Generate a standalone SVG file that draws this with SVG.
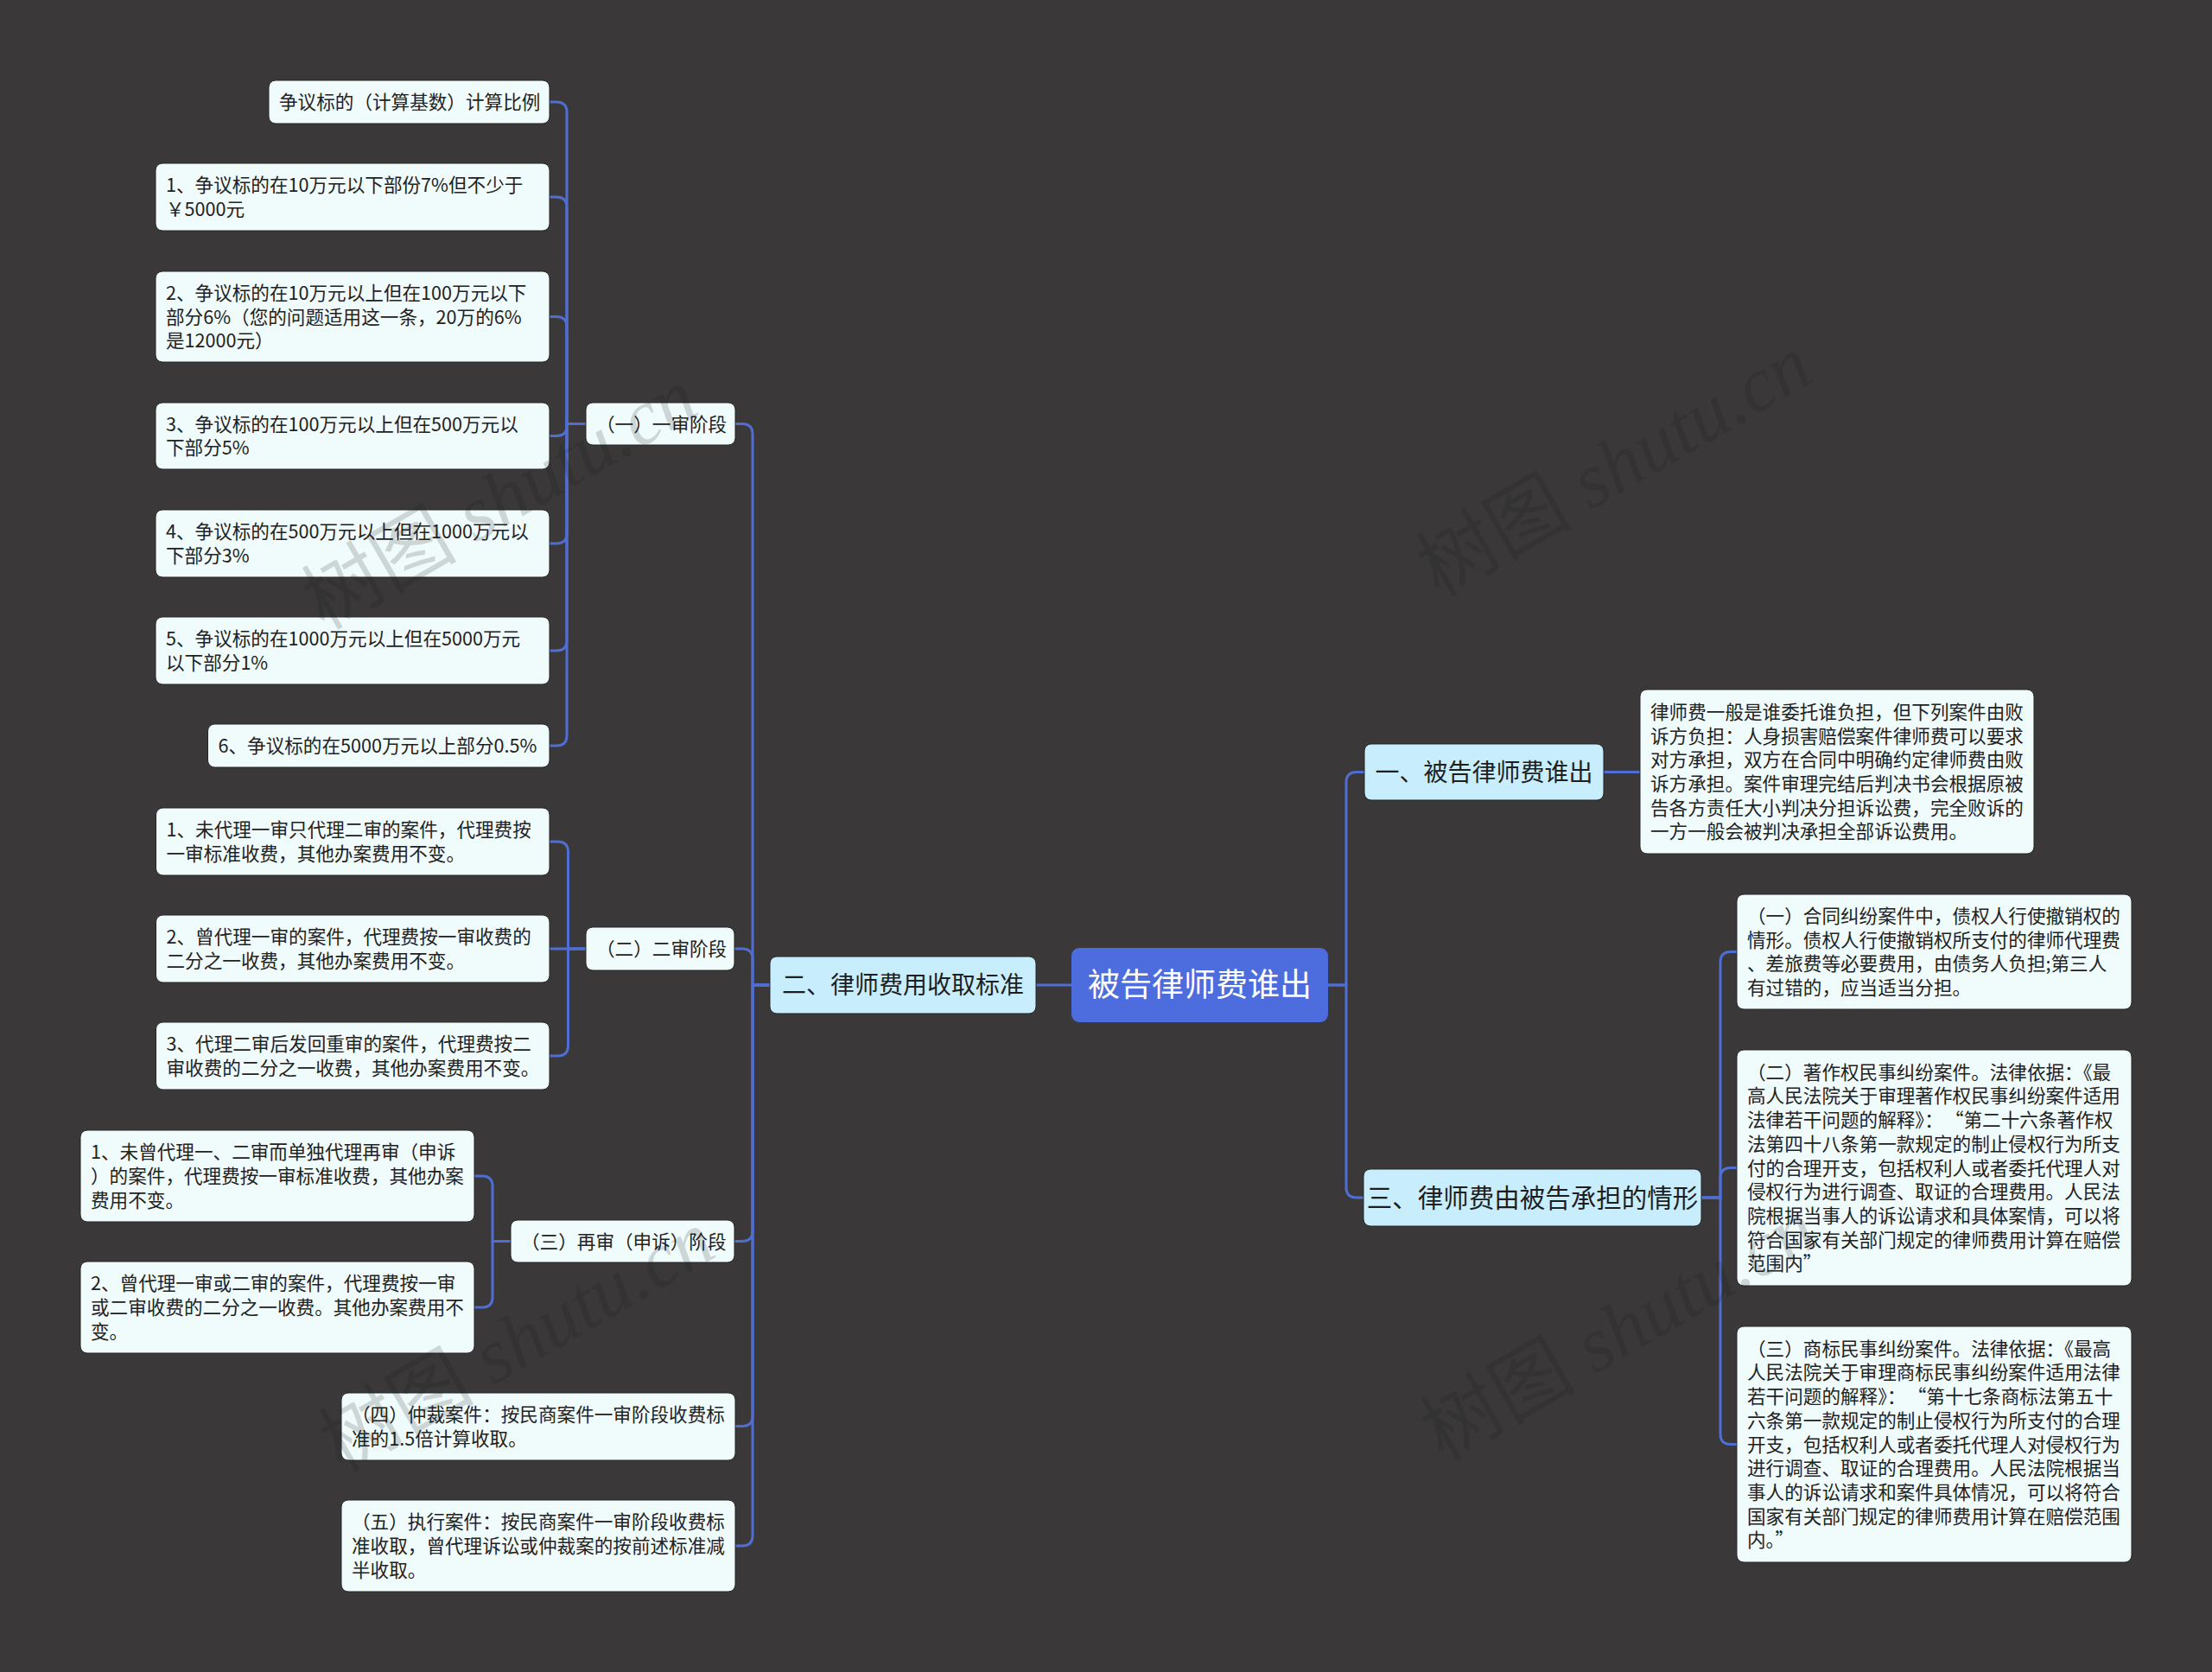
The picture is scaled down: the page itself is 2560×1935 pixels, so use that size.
<svg xmlns="http://www.w3.org/2000/svg" width="2560" height="1935" viewBox="0 0 2560 1935">
<defs>
<style>
.bg{fill:#3a3839}
.leaf{fill:#f0fbfc;stroke:#262626;stroke-width:1}
.l1{fill:#c8edfc;stroke:#262626;stroke-width:1}
.root{fill:#4d6cde}
.conn path{fill:none;stroke:#506ed2;stroke-width:3;stroke-linecap:round}
.t{font-family:"Noto Sans CJK SC","Liberation Sans",sans-serif;font-size:21.6px;fill:#222}
.t1{font-family:"Noto Sans CJK SC","Liberation Sans",sans-serif;font-size:28px;fill:#1e1e1e;text-anchor:middle}
.tr{font-family:"Noto Sans CJK SC","Liberation Sans",sans-serif;font-size:37px;fill:#ffffff;text-anchor:middle}
.wm{font-size:90px;fill:#1a1a1a;opacity:0.16}
.wmc{font-family:"Noto Sans CJK SC",sans-serif}
.wml{font-family:"Liberation Serif",serif;font-style:italic}
</style>
</defs>
<rect class="bg" x="0" y="0" width="2560" height="1935"/>

<g id="connectors" class="conn">
<path d="M1240,1140 H1199"/>
<path d="M1537,1140 H1558 V905.5 Q1558,893.5 1570,893.5 H1579"/>
<path d="M1537,1140 H1558 V1374 Q1558,1386 1570,1386 H1579"/>
<path d="M1856,893.5 H1898"/>
<path d="M1969,1386 H1991 V1113.5 Q1991,1101.5 2003,1101.5 H2010"/>
<path d="M1969,1386 H1991 V1363.5 Q1991,1351.5 2003,1351.5 H2010"/>
<path d="M1969,1386 H1991 V1659.5 Q1991,1671.5 2003,1671.5 H2010"/>
<path d="M891,1140 H871 V502.5 Q871,490.5 859,490.5 H851"/>
<path d="M891,1140 H871 V1110 Q871,1098 859,1098 H851"/>
<path d="M891,1140 H871 V1424.5 Q871,1436.5 859,1436.5 H851"/>
<path d="M891,1140 H871 V1638.5 Q871,1650.5 859,1650.5 H851"/>
<path d="M891,1140 H871 V1777 Q871,1789 859,1789 H851"/>
<path d="M678,490.5 H656 V130 Q656,118 644,118 H636"/>
<path d="M678,490.5 H656 V240 Q656,228 644,228 H636"/>
<path d="M678,490.5 H656 V378.5 Q656,366.5 644,366.5 H636"/>
<path d="M678,490.5 H656 V492.5 Q656,504.5 644,504.5 H636"/>
<path d="M678,490.5 H656 V617 Q656,629 644,629 H636"/>
<path d="M678,490.5 H656 V741 Q656,753 644,753 H636"/>
<path d="M678,490.5 H656 V851 Q656,863 644,863 H636"/>
<path d="M678,1098 H657.5 V986 Q657.5,974 645.5,974 H636"/>
<path d="M678,1098 H636"/>
<path d="M678,1098 H657.5 V1210 Q657.5,1222 645.5,1222 H636"/>
<path d="M591,1436.5 H570 V1373 Q570,1361 558,1361 H549"/>
<path d="M591,1436.5 H570 V1501 Q570,1513 558,1513 H549"/>
</g>

<g id="root">
<rect class="root" x="1240" y="1097" width="297" height="86" rx="9"/>
<text class="tr" x="1388.5" y="1153">被告律师费谁出</text>
</g>

<g id="n-yi">
<rect class="l1" x="1579" y="861" width="277" height="65" rx="8"/>
<text class="t1" x="1717.5" y="903.5">一、被告律师费谁出</text>
</g>
<g id="n-yi-desc">
<rect class="leaf" x="1898" y="798" width="456" height="190" rx="8"/>
<text class="t"><tspan x="1910" y="831.8">律师费一般是谁委托谁负担，但下列案件由败</tspan><tspan x="1910" y="859.5">诉方负担：人身损害赔偿案件律师费可以要求</tspan><tspan x="1910" y="887.2">对方承担，双方在合同中明确约定律师费由败</tspan><tspan x="1910" y="914.9">诉方承担。案件审理完结后判决书会根据原被</tspan><tspan x="1910" y="942.6">告各方责任大小判决分担诉讼费，完全败诉的</tspan><tspan x="1910" y="970.3">一方一般会被判决承担全部诉讼费用。</tspan></text>
</g>

<g id="n-san">
<rect class="l1" x="1578" y="1353" width="391" height="66" rx="8"/>
<text class="t1" x="1773.5" y="1396.5" style="font-size:29.5px">三、律师费由被告承担的情形</text>
</g>
<g id="n-san-1">
<rect class="leaf" x="2010" y="1035" width="457" height="133" rx="8"/>
<text class="t"><tspan x="2022" y="1068">（一）合同纠纷案件中，债权人行使撤销权的</tspan><tspan x="2022" y="1095.7">情形。债权人行使撤销权所支付的律师代理费</tspan><tspan x="2022" y="1123.4">、差旅费等必要费用，由债务人负担;第三人</tspan><tspan x="2022" y="1151.1">有过错的，应当适当分担。</tspan></text>
</g>
<g id="n-san-2">
<rect class="leaf" x="2010" y="1215" width="457" height="273" rx="8"/>
<text class="t"><tspan x="2022" y="1248.7">（二）著作权民事纠纷案件。法律依据：《最</tspan><tspan x="2022" y="1276.4">高人民法院关于审理著作权民事纠纷案件适用</tspan><tspan x="2022" y="1304.1">法律若干问题的解释》：<tspan dx="13">“第二十六条著作权</tspan></tspan><tspan x="2022" y="1331.8">法第四十八条第一款规定的制止侵权行为所支</tspan><tspan x="2022" y="1359.5">付的合理开支，包括权利人或者委托代理人对</tspan><tspan x="2022" y="1387.2">侵权行为进行调查、取证的合理费用。人民法</tspan><tspan x="2022" y="1414.9">院根据当事人的诉讼请求和具体案情，可以将</tspan><tspan x="2022" y="1442.6">符合国家有关部门规定的律师费用计算在赔偿</tspan><tspan x="2022" y="1470.3">范围内”</tspan></text>
</g>
<g id="n-san-3">
<rect class="leaf" x="2010" y="1535" width="457" height="273" rx="8"/>
<text class="t"><tspan x="2022" y="1568.7">（三）商标民事纠纷案件。法律依据：《最高</tspan><tspan x="2022" y="1596.4">人民法院关于审理商标民事纠纷案件适用法律</tspan><tspan x="2022" y="1624.1">若干问题的解释》：<tspan dx="13">“第十七条商标法第五十</tspan></tspan><tspan x="2022" y="1651.8">六条第一款规定的制止侵权行为所支付的合理</tspan><tspan x="2022" y="1679.5">开支，包括权利人或者委托代理人对侵权行为</tspan><tspan x="2022" y="1707.2">进行调查、取证的合理费用。人民法院根据当</tspan><tspan x="2022" y="1734.9">事人的诉讼请求和案件具体情况，可以将符合</tspan><tspan x="2022" y="1762.6">国家有关部门规定的律师费用计算在赔偿范围</tspan><tspan x="2022" y="1790.3">内。”</tspan></text>
</g>

<g id="n-er">
<rect class="l1" x="891" y="1107" width="308" height="66" rx="8"/>
<text class="t1" x="1045" y="1150">二、律师费用收取标准</text>
</g>

<g id="n-er-1">
<rect class="leaf" x="678" y="466" width="173" height="49" rx="8"/>
<text class="t" x="690" y="498.5">（一）一审阶段</text>
</g>
<g id="n-er-1-0">
<rect class="leaf" x="311" y="93" width="325" height="50" rx="8"/>
<text class="t" x="323" y="126">争议标的（计算基数）计算比例</text>
</g>
<g id="n-er-1-1">
<rect class="leaf" x="180" y="189" width="456" height="78" rx="8"/>
<text class="t"><tspan x="192" y="222.2">1、争议标的在10万元以下部份7%但不少于</tspan><tspan x="192" y="249.9">￥5000元</tspan></text>
</g>
<g id="n-er-1-2">
<rect class="leaf" x="180" y="314" width="456" height="105" rx="8"/>
<text class="t"><tspan x="192" y="346.8">2、争议标的在10万元以上但在100万元以下</tspan><tspan x="192" y="374.5">部分6%（您的问题适用这一条，20万的6%</tspan><tspan x="192" y="402.2">是12000元）</tspan></text>
</g>
<g id="n-er-1-3">
<rect class="leaf" x="180" y="466" width="456" height="77" rx="8"/>
<text class="t"><tspan x="192" y="498.7">3、争议标的在100万元以上但在500万元以</tspan><tspan x="192" y="526.4">下部分5%</tspan></text>
</g>
<g id="n-er-1-4">
<rect class="leaf" x="180" y="590" width="456" height="78" rx="8"/>
<text class="t"><tspan x="192" y="623.2">4、争议标的在500万元以上但在1000万元以</tspan><tspan x="192" y="650.9">下部分3%</tspan></text>
</g>
<g id="n-er-1-5">
<rect class="leaf" x="180" y="714" width="456" height="78" rx="8"/>
<text class="t"><tspan x="192" y="747.2">5、争议标的在1000万元以上但在5000万元</tspan><tspan x="192" y="774.9">以下部分1%</tspan></text>
</g>
<g id="n-er-1-6">
<rect class="leaf" x="240.5" y="838" width="395.5" height="50" rx="8"/>
<text class="t" x="252.5" y="871">6、争议标的在5000万元以上部分0.5%</text>
</g>

<g id="n-er-2">
<rect class="leaf" x="678" y="1073" width="172" height="50" rx="8"/>
<text class="t" x="690" y="1106">（二）二审阶段</text>
</g>
<g id="n-er-2-1">
<rect class="leaf" x="180.5" y="935" width="455.5" height="78" rx="8"/>
<text class="t"><tspan x="192.5" y="968.2">1、未代理一审只代理二审的案件，代理费按</tspan><tspan x="192.5" y="995.9">一审标准收费，其他办案费用不变。</tspan></text>
</g>
<g id="n-er-2-2">
<rect class="leaf" x="180.5" y="1059" width="455.5" height="78" rx="8"/>
<text class="t"><tspan x="192.5" y="1092.2">2、曾代理一审的案件，代理费按一审收费的</tspan><tspan x="192.5" y="1119.9">二分之一收费，其他办案费用不变。</tspan></text>
</g>
<g id="n-er-2-3">
<rect class="leaf" x="180.5" y="1183" width="455.5" height="78" rx="8"/>
<text class="t"><tspan x="192.5" y="1216.2">3、代理二审后发回重审的案件，代理费按二</tspan><tspan x="192.5" y="1243.9">审收费的二分之一收费，其他办案费用不变。</tspan></text>
</g>

<g id="n-er-3">
<rect class="leaf" x="591" y="1412" width="259" height="49" rx="8"/>
<text class="t" x="603" y="1444.5">（三）再审（申诉）阶段</text>
</g>
<g id="n-er-3-1">
<rect class="leaf" x="93" y="1308" width="456" height="106" rx="8"/>
<text class="t"><tspan x="105" y="1341.3">1、未曾代理一、二审而单独代理再审（申诉</tspan><tspan x="105" y="1369">）的案件，代理费按一审标准收费，其他办案</tspan><tspan x="105" y="1396.7">费用不变。</tspan></text>
</g>
<g id="n-er-3-2">
<rect class="leaf" x="93" y="1460" width="456" height="106" rx="8"/>
<text class="t"><tspan x="105" y="1493.3">2、曾代理一审或二审的案件，代理费按一审</tspan><tspan x="105" y="1521">或二审收费的二分之一收费。其他办案费用不</tspan><tspan x="105" y="1548.7">变。</tspan></text>
</g>

<g id="n-er-4">
<rect class="leaf" x="395" y="1612" width="456" height="78" rx="8"/>
<text class="t"><tspan x="407" y="1645.2">（四）仲裁案件：按民商案件一审阶段收费标</tspan><tspan x="407" y="1672.9">准的1.5倍计算收取。</tspan></text>
</g>
<g id="n-er-5">
<rect class="leaf" x="395" y="1736" width="456" height="106" rx="8"/>
<text class="t"><tspan x="407" y="1769.3">（五）执行案件：按民商案件一审阶段收费标</tspan><tspan x="407" y="1797">准收取，曾代理诉讼或仲裁案的按前述标准减</tspan><tspan x="407" y="1824.7">半收取。</tspan></text>
</g>

<g id="watermarks">
<text class="wm" transform="translate(375,730) rotate(-30)"><tspan class="wmc">树图</tspan><tspan class="wml"> shutu.cn</tspan></text>
<text class="wm" transform="translate(1665,692) rotate(-30)"><tspan class="wmc">树图</tspan><tspan class="wml"> shutu.cn</tspan></text>
<text class="wm" transform="translate(395,1705) rotate(-30)"><tspan class="wmc">树图</tspan><tspan class="wml"> shutu.cn</tspan></text>
<text class="wm" transform="translate(1670,1692) rotate(-30)"><tspan class="wmc">树图</tspan><tspan class="wml"> shutu.cn</tspan></text>
</g>
</svg>
